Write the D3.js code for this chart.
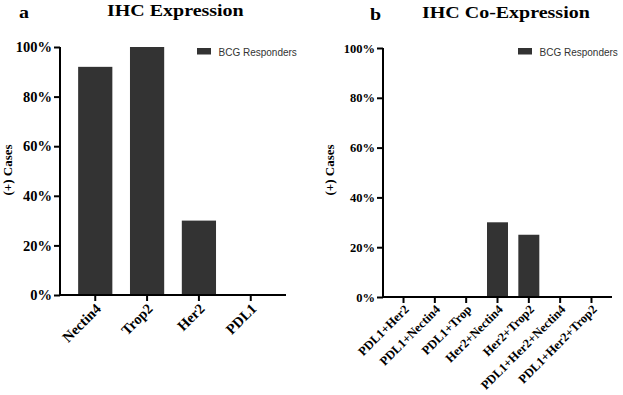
<!DOCTYPE html>
<html><head><meta charset="utf-8">
<script src="https://cdn.jsdelivr.net/npm/d3@7"></script>
<style>
body{margin:0;background:#fff;}
svg{display:block;}
</style></head>
<body>
<svg id="c" width="623" height="395"></svg>
<script>
const catsA = ["Nectin4","Trop2","Her2","PDL1"];
const valsA = [92,100,30,0];
const catsB = ["PDL1+Her2","PDL1+Nectin4","PDL1+Trop","Her2+Nectin4","Her2+Trop2","PDL1+Her2+Nectin4","PDL1+Her2+Trop2"];
const valsB = [0,0,0,30,25,0,0];
const yTicks = [0,20,40,60,80,100];
const seriesName = "BCG Responders";
const titles = ["IHC Expression","IHC Co-Expression"];
const letters = ["a","b"];
const yLabel = "(+) Cases";

const SERIF = "'Liberation Serif','Times New Roman',serif";
const SANS = "'Liberation Sans',Arial,sans-serif";
const svg = d3.select("#c");
const barColor = "#333333";

function serif(sel, size){
  return sel.style("font-family",SERIF).style("font-weight","bold").style("font-size",size+"px").attr("fill","#000");
}

function panel(cfg){
  const g = svg.append("g");
  const x = d3.scaleBand().domain(cfg.cats).range([cfg.x0,cfg.x1])
    .paddingInner(cfg.pi).paddingOuter(cfg.po);
  const y = d3.scaleLinear().domain([0,100]).range([cfg.y0,cfg.y1]);

  g.selectAll("rect.bar").data(cfg.cats.map((c,i)=>({c,v:cfg.vals[i]})))
    .join("rect").attr("class","bar")
    .attr("x",d=>x(d.c)).attr("width",x.bandwidth())
    .attr("y",d=>y(d.v)).attr("height",d=>y(0)-y(d.v))
    .attr("fill",barColor);

  const ya = d3.axisLeft(y).tickValues(yTicks).tickFormat(d=>d+"%").tickSize(6).tickPadding(2);
  const yg = g.append("g").attr("transform",`translate(${cfg.x0},0)`).call(ya);
  yg.select(".domain").attr("stroke","#000").attr("stroke-width",2).attr("d",`M0,${cfg.y0}V${cfg.y1}`);
  yg.selectAll(".tick line").attr("stroke","#000").attr("stroke-width",2);
  serif(yg.selectAll(".tick text"), cfg.fs);

  const xa = d3.axisBottom(x).tickSize(6).tickSizeOuter(0);
  const xg = g.append("g").attr("transform",`translate(0,${cfg.y0})`).call(xa);
  xg.select(".domain").attr("stroke","#000").attr("stroke-width",2).attr("d",`M${cfg.x0},0H${cfg.x1}`);
  xg.selectAll(".tick line").attr("stroke","#000").attr("stroke-width",2);
  serif(xg.selectAll(".tick text"), cfg.xfs)
    .attr("text-anchor","end").attr("y",0).attr("dy","0.35em")
    .attr("transform",`translate(3,${cfg.lblOff}) rotate(-45)`);

  serif(g.append("text"), cfg.yfs)
    .attr("text-anchor","middle")
    .attr("transform",`translate(${cfg.ylx},${cfg.yly}) rotate(-90)`).text(yLabel);

  serif(g.append("text"), 20).attr("transform",`translate(${cfg.tx},${cfg.ty}) scale(1,0.82)`)
    .text(cfg.title);
  serif(g.append("text"), 20).attr("transform",`translate(${cfg.lx},${cfg.ty+2}) scale(1,0.82)`)
    .text(cfg.letter);

  g.append("rect").attr("x",cfg.legX).attr("y",48).attr("width",14).attr("height",6.5).attr("fill",barColor);
  g.append("text").attr("x",cfg.legX+21.5).attr("y",55.5)
    .style("font-family",SANS).style("font-size","10px").attr("fill","#333")
    .text(seriesName);
}

panel({cats:catsA, vals:valsA, x0:60, x1:286, y0:295, y1:47, pi:0.34, po:0.35,
  fs:14.5, xfs:14.5, yfs:13, ylx:12, yly:170, lblOff:11,
  title:titles[0], letter:letters[0], tx:107, ty:15.5, lx:19, legX:197});
panel({cats:catsB, vals:valsB, x0:383, x1:612, y0:297, y1:48, pi:0.33, po:0.32,
  fs:12.5, xfs:12.5, yfs:13, ylx:334, yly:170, lblOff:10,
  title:titles[1], letter:letters[1], tx:422, ty:18, lx:370, legX:518});
</script>
</body></html>
